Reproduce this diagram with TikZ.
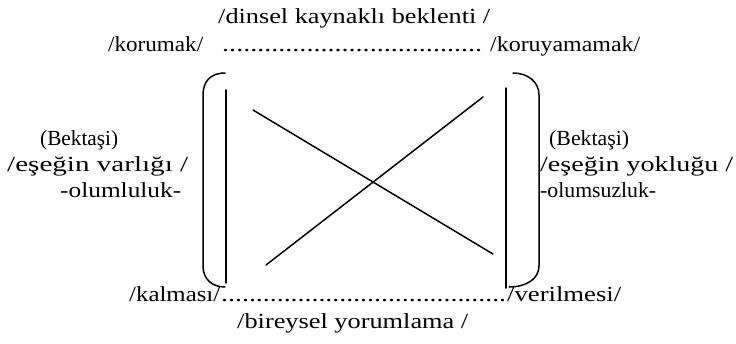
\documentclass[tikz,border=0pt]{standalone}
\usepackage{fontspec}
\usepackage{graphicx}
\setmainfont{Liberation Serif}
\newcommand\fw[2]{\resizebox{#1pt}{\height}{#2}}
\tikzset{
  txt/.style={anchor=base west, inner sep=0pt, font=\fontsize{21.5}{25}\selectfont},
  ln/.style={line width=1.5pt, line cap=round}
}
\begin{document}
\begin{tikzpicture}[x=1pt,y=-1pt]
\useasboundingbox (0,0) rectangle (736,343);
% top
\node[txt] (top) at (218,23) {\fw{272}{/dinsel kaynaklı beklenti /}};
\node[txt] (kor) at (108,51) {\fw{95}{/korumak/}};
\node[txt] (d1) at (222,51) {\fw{260}{.....................................}};
\node[txt] (koy) at (490,51) {\fw{150}{/koruyamamak/}};
% left
\node[txt] (lb) at (40,145) {\fw{78}{(Bektaşi)}};
\node[txt] (lv) at (7,171) {\fw{181}{/eşeğin varlığı /}};
\node[txt] (lo) at (60,197) {\fw{121}{-olumluluk-}};
% right
\node[txt] (rb) at (549,145) {\fw{80}{(Bektaşi)}};
\node[txt] (ry) at (540,171) {\fw{193}{/eşeğin yokluğu /}};
\node[txt] (ro) at (540,197) {\fw{116}{-olumsuzluk-}};
% bottom
\node[txt] (kal) at (129,301) {\fw{91}{/kalması/}};
\node[txt] (d2) at (221,301) {\fw{285}{.........................................}};
\node[txt] (ver) at (507,301) {\fw{114}{/verilmesi/}};
\node[txt] (bir) at (237,328) {\fw{231}{/bireysel yorumlama /}};
% brackets
\draw[ln] (225,73) .. controls (210,73) and (203,82) .. (203,95) -- (203,266) .. controls (203,279) and (212,287) .. (225,287);
\draw[ln] (513,73) .. controls (528,73) and (539,82) .. (539,95) -- (539,266) .. controls (539,279) and (526,287) .. (509,287);
\draw[ln] (226,90) -- (226,283);
\draw[ln] (506,88) -- (506,288);
% cross
\draw[ln] (253,110) -- (493,254);
\draw[ln] (266,265) -- (483,97);
\end{tikzpicture}
\end{document}
